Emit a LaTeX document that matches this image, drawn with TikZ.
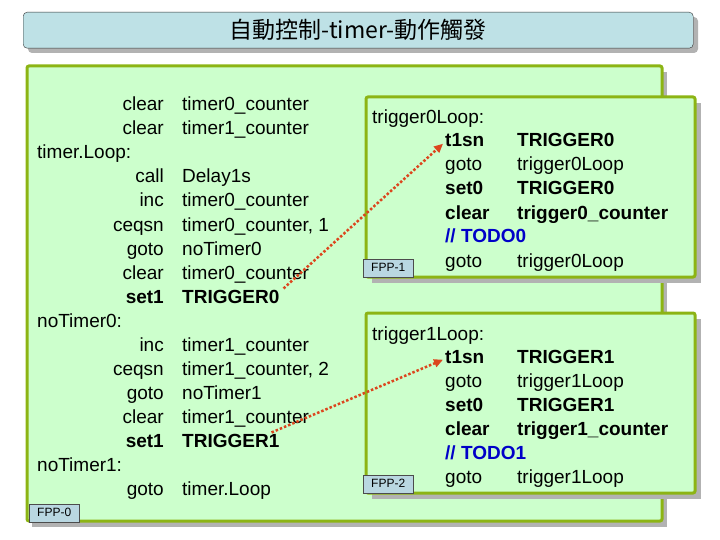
\documentclass[tikz,border=0pt]{standalone}
\usepackage{fontspec}
\setmainfont{Liberation Sans}
\newfontfamily\cjk{Noto Sans CJK TC}
\usetikzlibrary{positioning,arrows.meta}
\definecolor{panelgreen}{RGB}{204,255,204}
\definecolor{framegreen}{RGB}{140,180,20}
\definecolor{titleblue}{RGB}{190,225,230}
\definecolor{tagblue}{RGB}{185,215,225}
\definecolor{todoblue}{RGB}{0,0,200}
\definecolor{linkred}{RGB}{220,70,30}
\tikzset{
  panel/.style={draw=framegreen,line width=3pt,fill=panelgreen,rounded corners=2pt},
  shade/.style={fill=black!30},
  tag/.style={draw=black!70,fill=tagblue,font=\fontsize{12}{14}\selectfont,inner sep=2pt,minimum width=50pt,minimum height=18pt},
  code/.style={font=\fontsize{19}{21}\selectfont,inner sep=0pt,anchor=base west},
  op/.style={code,anchor=base east},
  link/.style={linkred,line width=2.5pt,dotted,-{Triangle[length=9pt,width=8pt]}}
}
\begin{document}
\begin{tikzpicture}[x=1pt,y=-1pt]
  \useasboundingbox (0,0) rectangle (720,540);
  % title
  \fill[shade,rounded corners=4pt] (28,17) rectangle (698,53);
  \node[draw=black!80,fill=titleblue,rounded corners=4pt,minimum width=670pt,minimum height=36pt,anchor=north west,
    font=\cjk\fontsize{23}{25}\selectfont] (title) at (23,12) {自動控制-timer-動作觸發};
  % main panel
  \fill[shade] (32,72) rectangle (667,527);
  \draw[panel] (27,66) rectangle (662,521);
  \node[tag,anchor=south west] (fpp0) at (29,522) {FPP-0};
  % left listing
  \foreach \y/\ins/\arg in {104/clear/timer0\_counter, 128/clear/timer1\_counter,
      176/call/Delay1s, 200/inc/timer0\_counter, 224/ceqsn/{timer0\_counter, 1},
      248/goto/noTimer0, 272/clear/timer0\_counter,
      344/inc/timer1\_counter, 368/ceqsn/{timer1\_counter, 2},
      392/goto/noTimer1, 416/clear/timer1\_counter, 488/goto/timer.Loop}
  {
    \node[op] at (164,\y+7) {\ins};
    \node[code] at (182,\y+7) {\arg};
  }
  \node[op] at (164,303) {\bfseries set1};
  \node[op] at (164,447) {\bfseries set1};
  \node[code] (trig0) at (182,303) {\bfseries TRIGGER0};
  \node[code] (trig1) at (182,447) {\bfseries TRIGGER1};
  \node[code] at (37,159) {timer.Loop:};
  \node[code] at (37,327) {noTimer0:};
  \node[code] at (37,471) {noTimer1:};
  % trigger loops
  \foreach \n/\top in {0/97,1/313}
  {
    \fill[shade] (372,\top+6) rectangle (701,\top+186);
    \draw[panel] (366,\top) rectangle (695,\top+180);
    \pgfmathtruncatemacro\fp{\n+1}
    \node[tag,anchor=south west] (fpp\fp) at (363,\top+180) {FPP-\fp};
    \node[code] at (372,\top+27) {trigger\n Loop:};
    \node[code] (tsn\n) at (445,\top+50) {\bfseries t1sn};
    \node[code] at (517,\top+50) {\bfseries TRIGGER\n};
    \node[code] at (445,\top+74) {goto};
    \node[code] at (517,\top+74) {trigger\n Loop};
    \node[code] at (445,\top+98) {\bfseries set0};
    \node[code] at (517,\top+98) {\bfseries TRIGGER\n};
    \node[code] at (445,\top+122) {\bfseries clear};
    \node[code] at (517,\top+122) {\bfseries trigger\n\_counter};
    \node[code,todoblue] at (445,\top+146) {\bfseries // TODO\n};
    \node[code] at (445,\top+170) {goto};
    \node[code] at (517,\top+170) {trigger\n Loop};
  }
  % links
  \draw[link] (trig0.east) ++(4,-8) -- ([xshift=-2pt,yshift=-10pt]tsn0.north west);
  \draw[link] (trig1.east) ++(-8,-8) -- ([xshift=-2pt,yshift=-10pt]tsn1.north west);
\end{tikzpicture}
\end{document}
